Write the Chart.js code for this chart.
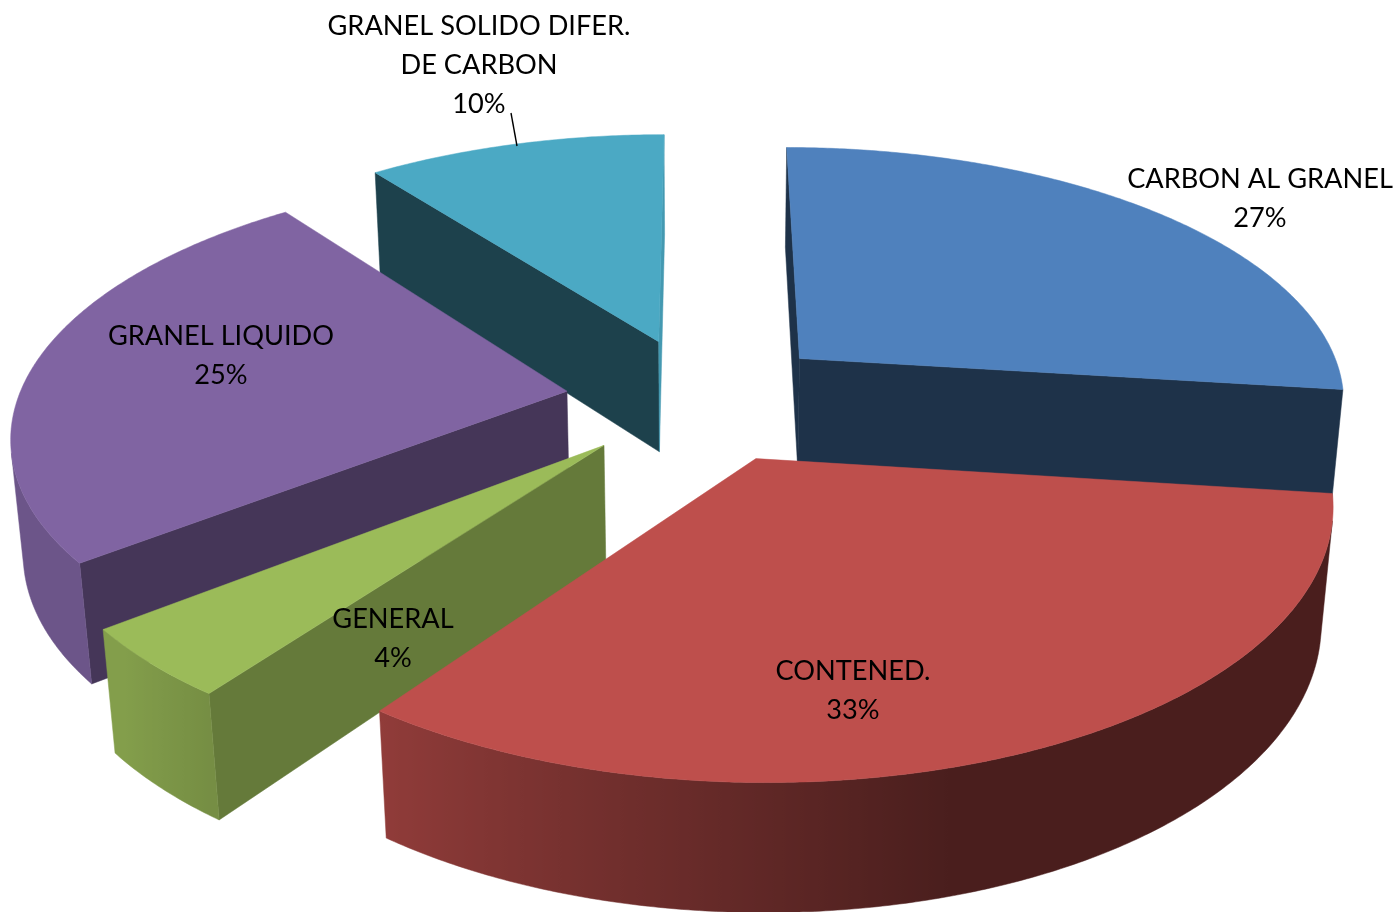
<!DOCTYPE html>
<html><head><meta charset="utf-8">
<style>html,body{margin:0;padding:0;background:#fff}canvas{display:block}</style>
<script src="https://cdn.jsdelivr.net/npm/chart.js@4"></script>
</head><body>
<canvas id="c" width="1399" height="912"></canvas>
<script>
const categories = ["CARBON AL GRANEL","CONTENED.","GENERAL","GRANEL LIQUIDO","GRANEL SOLIDO DIFER.\nDE CARBON"];
const values = [27,33.05,4.33,25.25,10.37];
const topColors = ["#4F81BD","#BE4F4C","#9BBB59","#8064A2","#4BA9C4"];

// layout of the picture (not data)
const cam = {cx:700.5, cy:399, R:549, Ry:254.5, p:0.152, q:0.018, D:115};
const labelAt = [[1260,179],[853,671],[393,619],[221,336],[479,26]];
const lineH = 39, FONT = '27.2px Lato';
const leader = {index:4, from:[511,113], to:[517,146]};

function project(u,v,z){
  const w = 1 - cam.p*v + cam.q*z;
  return [cam.cx + cam.R*u/w, cam.cy + (cam.Ry*v + cam.D*z)/w];
}
function shade(hex,f){
  const n=parseInt(hex.slice(1),16);
  return `rgb(${((n>>16)&255)*f|0},${((n>>8)&255)*f|0},${(n&255)*f|0})`;
}
const DEG=180/Math.PI;
function norm(a){a=a*DEG%360;return a<0?a+360:a;}
function wallShade(a){ // outer wall, a in degrees
  return Math.min(0.85,Math.max(0.39,0.39+(a-74)/53*0.38));
}
function radialShade(n){ // radial wall, outward normal in degrees
  if(n>270) n-=360;
  return n<74 ? 0.39+(74-n)*0.007 : 0.39;
}
function areaOf(q){
  let area=0;
  for(let i=0;i<4;i++){const j=(i+1)%4;area+=q[i][0]*q[j][1]-q[j][0]*q[i][1];}
  return area;
}
function quad(ctx,q,color){
  if(areaOf(q)>=0) return;
  ctx.beginPath();ctx.moveTo(q[0][0],q[0][1]);
  for(let i=1;i<4;i++)ctx.lineTo(q[i][0],q[i][1]);
  ctx.closePath();
  ctx.fillStyle=color;ctx.strokeStyle=color;ctx.lineWidth=0.5;ctx.fill();ctx.stroke();
}
function drawSlice(ctx,el,base){
  const rad=el.outerRadius, mid=(el.startAngle+el.endAngle)/2, off=el.options.offset/rad;
  const au=off*Math.cos(mid), av=off*Math.sin(mid);
  const N=Math.max(24,Math.ceil((el.endAngle-el.startAngle)*DEG*2));
  const rim=[];
  for(let i=0;i<=N;i++){
    const a=el.startAngle+(el.endAngle-el.startAngle)*i/N;
    rim.push([au+Math.cos(a),av+Math.sin(a),a]);
  }
  const P=(p,z)=>project(p[0],p[1],z);
  const apex=[au,av];
  // radial walls
  quad(ctx,[P(apex,0),P(rim[0],0),P(rim[0],1),P(apex,1)],shade(base,radialShade(norm(el.startAngle-Math.PI/2))));
  quad(ctx,[P(rim[N],0),P(apex,0),P(apex,1),P(rim[N],1)],shade(base,radialShade(norm(el.endAngle+Math.PI/2))));
  // outer wall: contiguous visible runs, filled with a gradient across X
  let run=[];
  const flush=()=>{
    if(run.length<2){run=[];return;}
    const pts=run.map(p=>({x:P(p,0)[0],f:wallShade(norm(p[2]))})).sort((a,b)=>a.x-b.x);
    const x0=pts[0].x,x1=pts[pts.length-1].x;
    const g=ctx.createLinearGradient(x0,0,x1,0);
    pts.forEach(s=>g.addColorStop((s.x-x0)/Math.max(1e-6,x1-x0),shade(base,s.f)));
    ctx.beginPath();
    run.forEach((p,i)=>{const s=P(p,0);i?ctx.lineTo(s[0],s[1]):ctx.moveTo(s[0],s[1]);});
    run.slice().reverse().forEach(p=>{const s=P(p,1);ctx.lineTo(s[0],s[1]);});
    ctx.closePath();
    ctx.fillStyle=g;ctx.strokeStyle=g;ctx.lineWidth=0.5;ctx.fill();ctx.stroke();
    run=[];
  };
  for(let i=0;i<N;i++){
    const vis=areaOf([P(rim[i],0),P(rim[i+1],0),P(rim[i+1],1),P(rim[i],1)])<0;
    if(vis){ if(!run.length) run.push(rim[i]); run.push(rim[i+1]); }
    else flush();
  }
  flush();
  // top face
  ctx.beginPath();
  const a0=P(apex,0);ctx.moveTo(a0[0],a0[1]);
  rim.forEach(p=>{const s=P(p,0);ctx.lineTo(s[0],s[1]);});
  ctx.closePath();
  ctx.fillStyle=base;ctx.strokeStyle=base;ctx.lineWidth=0.5;ctx.fill();ctx.stroke();
}
const pie3d={
  id:'pie3d',
  beforeDatasetsDraw(chart){
    const ctx=chart.ctx, meta=chart.getDatasetMeta(0);
    const order=meta.data.map((el,i)=>({el,i,k:Math.sin((el.startAngle+el.endAngle)/2)})).sort((a,b)=>a.k-b.k);
    ctx.save();
    order.forEach(o=>drawSlice(ctx,o.el,chart.data.datasets[0].backgroundColor[o.i]));
    ctx.restore();
    return false;
  },
  afterDraw(chart){
    const ctx=chart.ctx, ds=chart.data.datasets[0];
    ctx.save();
    ctx.strokeStyle='#000';ctx.lineWidth=1.4;
    ctx.beginPath();ctx.moveTo(leader.from[0],leader.from[1]);ctx.lineTo(leader.to[0],leader.to[1]);ctx.stroke();
    ctx.fillStyle='#000';ctx.font=FONT;ctx.textAlign='center';ctx.textBaseline='middle';
    chart.data.labels.forEach((lab,i)=>{
      const lines=lab.split('\n').concat(Math.round(ds.data[i])+'%');
      lines.forEach((t,j)=>ctx.fillText(t,labelAt[i][0],labelAt[i][1]+j*lineH));
    });
    ctx.restore();
  }
};
new Chart(document.getElementById('c'),{
  type:'pie',
  data:{labels:categories,datasets:[{data:values,backgroundColor:topColors,borderWidth:0,offset:100}]},
  options:{
    responsive:false,animation:false,rotation:0,
    layout:{padding:0},
    plugins:{legend:{display:false},tooltip:{enabled:false},title:{display:false}}
  },
  plugins:[pie3d]
});
</script>
</body></html>
